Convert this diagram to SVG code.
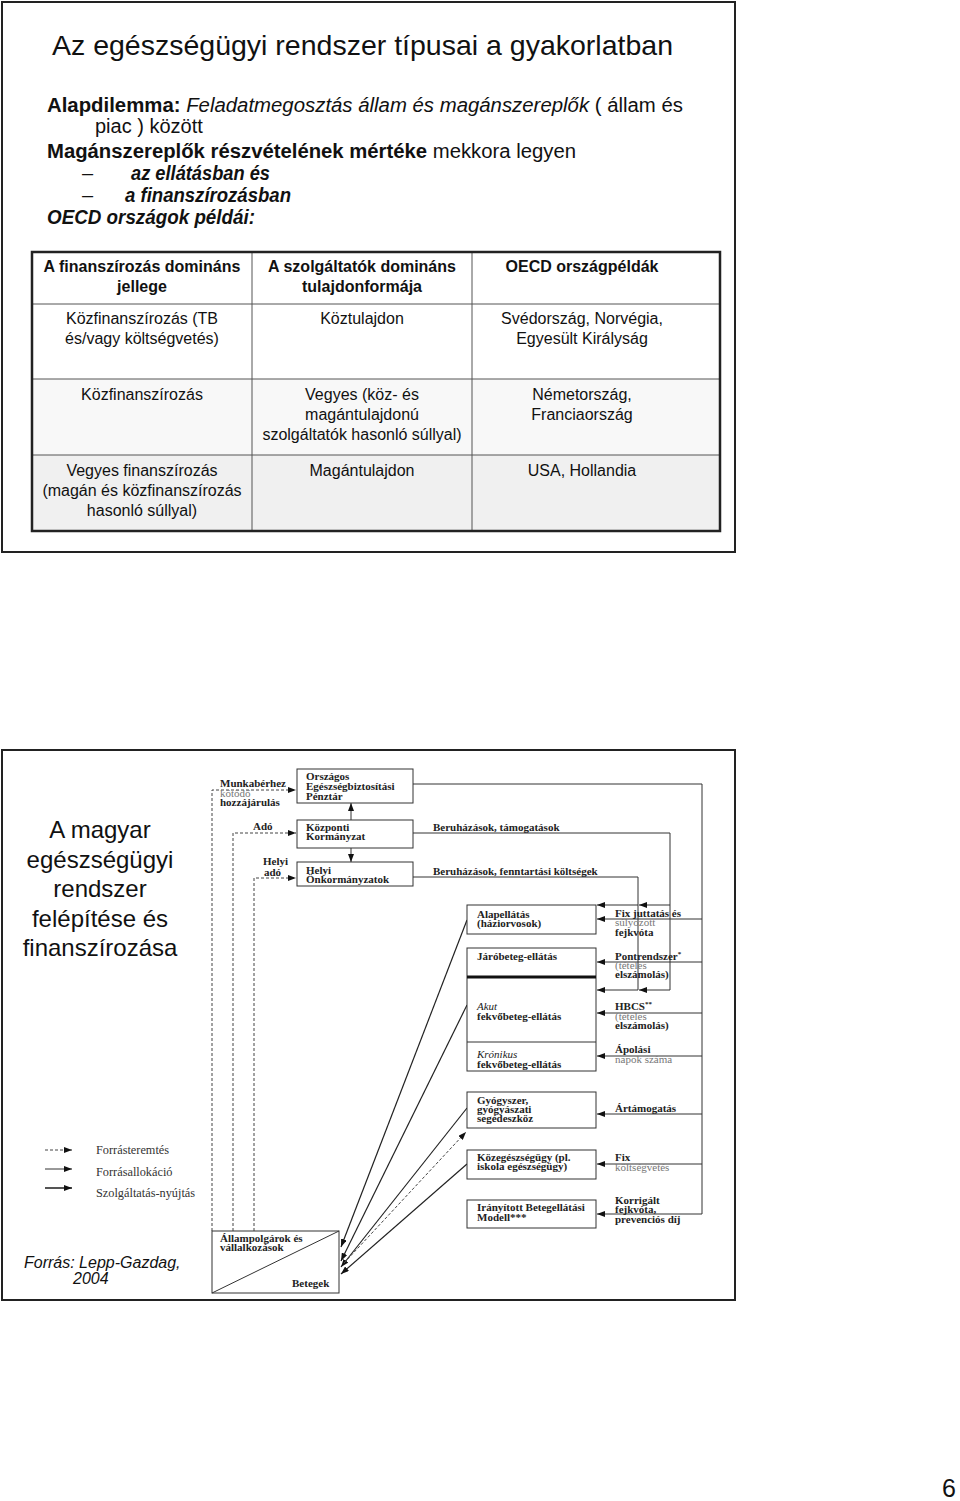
<svg xmlns="http://www.w3.org/2000/svg" width="960" height="1501" viewBox="0 0 960 1501">
<defs>
<style>
.s{font-family:"Liberation Sans",Arial,sans-serif;fill:#111}
.t{font-size:20px}
.th{font-size:16px;text-anchor:middle}
.b{font-weight:bold}
.i{font-style:italic}
.d{font-family:"Liberation Serif","Times New Roman",serif;font-size:11px;font-weight:bold;fill:#222}
.lt{font-weight:normal;fill:#777}
.lg{font-family:"Liberation Serif","Times New Roman",serif;font-size:12.3px;fill:#333}
.box{fill:#fff;stroke:#333;stroke-width:1}
.ln{fill:none;stroke:#333;stroke-width:1}
.dg{fill:none;stroke:#222;stroke-width:1.2}
.ds{fill:none;stroke:#444;stroke-width:1;stroke-dasharray:3,2}
.cell{stroke:#555;stroke-width:1}
</style>
<marker id="ah" viewBox="0 0 8 6" refX="8" refY="3" markerWidth="8" markerHeight="6" markerUnits="userSpaceOnUse" orient="auto">
<path d="M0,0 L8,3 L0,6 z" fill="#111"/>
</marker>
</defs>
<rect width="960" height="1501" fill="#fff"/>

<g id="slide1">
<rect x="2" y="2" width="733" height="550" fill="none" stroke="#222" stroke-width="2"/>
<text class="s" x="52" y="55" font-size="28.5" textLength="621" lengthAdjust="spacingAndGlyphs">Az egészségügyi rendszer típusai a gyakorlatban</text>
<text class="s t" x="47" y="112" textLength="636" lengthAdjust="spacingAndGlyphs"><tspan class="b">Alapdilemma:</tspan> <tspan class="i">Feladatmegosztás állam és magánszereplők</tspan> ( állam és</text>
<text class="s t" x="95" y="133">piac ) között</text>
<text class="s t" x="47" y="158" textLength="529" lengthAdjust="spacingAndGlyphs"><tspan class="b">Magánszereplők részvételének mértéke</tspan> mekkora legyen</text>
<text class="s t" x="82" y="180">–</text>
<text class="s t b i" x="131" y="180" textLength="139" lengthAdjust="spacingAndGlyphs">az ellátásban és</text>
<text class="s t" x="82" y="202">–</text>
<text class="s t b i" x="125" y="202" textLength="166" lengthAdjust="spacingAndGlyphs">a finanszírozásban</text>
<text class="s t b i" x="47" y="224" textLength="208" lengthAdjust="spacingAndGlyphs">OECD országok példái:</text>
</g>

<g id="table">
<rect x="32" y="379" width="688" height="76" fill="#f8f8f8"/>
<rect x="32" y="455" width="688" height="76" fill="#f0f0f0"/>
<line class="cell" x1="32" y1="304" x2="720" y2="304"/>
<line class="cell" x1="32" y1="379" x2="720" y2="379"/>
<line class="cell" x1="32" y1="455" x2="720" y2="455"/>
<line class="cell" x1="252" y1="252" x2="252" y2="531"/>
<line class="cell" x1="472" y1="252" x2="472" y2="531"/>
<rect x="32" y="252" width="688" height="279" fill="none" stroke="#222" stroke-width="2.5"/>
<text class="s th b" x="142" y="272">A finanszírozás domináns</text>
<text class="s th b" x="142" y="292">jellege</text>
<text class="s th b" x="362" y="272">A szolgáltatók domináns</text>
<text class="s th b" x="362" y="292">tulajdonformája</text>
<text class="s th b" x="582" y="272">OECD országpéldák</text>
<text class="s th" x="142" y="324">Közfinanszírozás (TB</text>
<text class="s th" x="142" y="344">és/vagy költségvetés)</text>
<text class="s th" x="362" y="324">Köztulajdon</text>
<text class="s th" x="582" y="324">Svédország, Norvégia,</text>
<text class="s th" x="582" y="344">Egyesült Királyság</text>
<text class="s th" x="142" y="400">Közfinanszírozás</text>
<text class="s th" x="362" y="400">Vegyes (köz- és</text>
<text class="s th" x="362" y="420">magántulajdonú</text>
<text class="s th" x="362" y="440">szolgáltatók hasonló súllyal)</text>
<text class="s th" x="582" y="400">Németország,</text>
<text class="s th" x="582" y="420">Franciaország</text>
<text class="s th" x="142" y="476">Vegyes finanszírozás</text>
<text class="s th" x="142" y="496">(magán és közfinanszírozás</text>
<text class="s th" x="142" y="516">hasonló súllyal)</text>
<text class="s th" x="362" y="476">Magántulajdon</text>
<text class="s th" x="582" y="476">USA, Hollandia</text>
</g>

<g id="slide2">
<rect x="2" y="750" width="733" height="550" fill="none" stroke="#222" stroke-width="2"/>
<text class="s" font-size="24" text-anchor="middle" x="100" y="838">A magyar</text>
<text class="s" font-size="24" text-anchor="middle" x="100" y="867.5">egészségügyi</text>
<text class="s" font-size="24" text-anchor="middle" x="100" y="897">rendszer</text>
<text class="s" font-size="24" text-anchor="middle" x="100" y="926.5">felépítése és</text>
<text class="s" font-size="24" text-anchor="middle" x="100" y="956">finanszírozása</text>
<text class="s i" font-size="16" x="24" y="1268">Forrás: Lepp-Gazdag,</text>
<text class="s i" font-size="16" x="73" y="1284">2004</text>
</g>

<g id="legend">
<line class="ds" x1="45" y1="1150" x2="72" y2="1150" marker-end="url(#ah)"/>
<line class="ln" x1="45" y1="1169" x2="72" y2="1169" marker-end="url(#ah)"/>
<line x1="45" y1="1188" x2="72" y2="1188" stroke="#555" stroke-width="2" marker-end="url(#ah)"/>
<text class="lg" x="96" y="1154">Forrásteremtés</text>
<text class="lg" x="96" y="1176">Forrásallokáció</text>
<text class="lg" x="96" y="1197">Szolgáltatás-nyújtás</text>
</g>

<g id="connectors">
<path class="ds" d="M212,1231 V790 H296" marker-end="url(#ah)"/>
<path class="ds" d="M233,1231 V833 H296" marker-end="url(#ah)"/>
<path class="ds" d="M254,1231 V878 H296" marker-end="url(#ah)"/>
<line class="ln" x1="351" y1="820" x2="351" y2="803" marker-end="url(#ah)"/>
<line class="ln" x1="351" y1="848" x2="351" y2="862" marker-end="url(#ah)"/>
<path class="ln" d="M413,784 H702 V1214"/>
<path class="ln" d="M413,833 H670 V990"/>
<path class="ln" d="M413,877 H638 V990"/>
<line class="ln" x1="670" y1="905" x2="639" y2="905" marker-end="url(#ah)"/>
<line class="ln" x1="638" y1="905" x2="597" y2="905" marker-end="url(#ah)"/>
<line class="ln" x1="670" y1="990" x2="639" y2="990" marker-end="url(#ah)"/>
<line class="ln" x1="638" y1="990" x2="597" y2="990" marker-end="url(#ah)"/>
<line class="ln" x1="702" y1="919" x2="597" y2="919" marker-end="url(#ah)"/>
<line class="ln" x1="702" y1="962" x2="597" y2="962" marker-end="url(#ah)"/>
<line class="ln" x1="702" y1="1013" x2="597" y2="1013" marker-end="url(#ah)"/>
<line class="ln" x1="702" y1="1056" x2="597" y2="1056" marker-end="url(#ah)"/>
<line class="ln" x1="702" y1="1114" x2="597" y2="1114" marker-end="url(#ah)"/>
<line class="ln" x1="702" y1="1164" x2="597" y2="1164" marker-end="url(#ah)"/>
<line class="ln" x1="702" y1="1214" x2="597" y2="1214" marker-end="url(#ah)"/>
<line class="dg" x1="467" y1="920" x2="341" y2="1247" marker-end="url(#ah)"/>
<line class="dg" x1="467" y1="1005" x2="341" y2="1261" marker-end="url(#ah)"/>
<line class="dg" x1="467" y1="1108" x2="341" y2="1267" marker-end="url(#ah)"/>
<line class="dg" x1="467" y1="1164" x2="341" y2="1274" marker-end="url(#ah)"/>
<line class="ds" x1="344" y1="1263" x2="466" y2="1132" marker-end="url(#ah)"/>
</g>

<g id="labels">
<text class="d" x="220" y="787">Munkabérhez</text>
<text class="d lt" x="220" y="797">kötődő</text>
<text class="d" x="220" y="806">hozzájárulás</text>
<text class="d" x="253" y="830">Adó</text>
<text class="d" x="263" y="865">Helyi</text>
<text class="d" x="264" y="876">adó</text>
<text class="d" x="433" y="830.5">Beruházások, támogatások</text>
<text class="d" x="433" y="874.5">Beruházások, fenntartási költségek</text>
<text class="d" x="615" y="916.5">Fix juttatás és</text>
<text class="d lt" x="615" y="925.5">súlyozott</text>
<text class="d" x="615" y="935.5">fejkvóta</text>
<text class="d" x="615" y="959.5">Pontrendszer<tspan dy="-4" font-size="7">*</tspan></text>
<text class="d lt" x="615" y="968.5">(tételes</text>
<text class="d" x="615" y="977.5">elszámolás)</text>
<text class="d" x="615" y="1009.5">HBCS<tspan dy="-4" font-size="7">**</tspan></text>
<text class="d lt" x="615" y="1019.5">(tételes</text>
<text class="d" x="615" y="1028.5">elszámolás)</text>
<text class="d" x="615" y="1052.5">Ápolási</text>
<text class="d lt" x="615" y="1062.5">napok száma</text>
<text class="d" x="615" y="1111.5">Ártámogatás</text>
<text class="d" x="615" y="1160.5">Fix</text>
<text class="d lt" x="615" y="1170.5">költségvetés</text>
<text class="d" x="615" y="1203.5">Korrigált</text>
<text class="d" x="615" y="1212.5">fejkvóta,</text>
<text class="d" x="615" y="1223">prevenciós díj</text>
</g>

<g id="oep">
<rect class="box" x="297" y="769" width="116" height="34"/>
<text class="d" x="306" y="780">Országos</text>
<text class="d" x="306" y="790">Egészségbiztosítási</text>
<text class="d" x="306" y="799.5">Pénztár</text>
</g>
<g id="kozponti">
<rect class="box" x="297" y="820" width="116" height="28"/>
<text class="d" x="306" y="830.5">Központi</text>
<text class="d" x="306" y="839.5">Kormányzat</text>
</g>
<g id="helyi">
<rect class="box" x="297" y="862" width="116" height="24"/>
<text class="d" x="306" y="873.5">Helyi</text>
<text class="d" x="306" y="882.5">Önkormányzatok</text>
</g>
<g id="alapellatas">
<rect class="box" x="467" y="905" width="129" height="29"/>
<text class="d" x="477" y="917.5">Alapellátás</text>
<text class="d" x="477" y="926.5">(háziorvosok)</text>
</g>
<g id="jarobeteg">
<rect class="box" x="467" y="948" width="129" height="123"/>
<line x1="467" y1="977" x2="596" y2="977" stroke="#111" stroke-width="3"/>
<line class="ln" x1="467" y1="1042" x2="596" y2="1042"/>
<text class="d" x="477" y="959.5">Járóbeteg-ellátás</text>
<text class="d i" x="477" y="1009.5" style="font-weight:normal">Akut</text>
<text class="d" x="477" y="1019.5">fekvőbeteg-ellátás</text>
<text class="d i" x="477" y="1057.5" style="font-weight:normal">Krónikus</text>
<text class="d" x="477" y="1067.5">fekvőbeteg-ellátás</text>
</g>
<g id="gyogyszer">
<rect class="box" x="467" y="1092" width="129" height="36"/>
<text class="d" x="477" y="1103.5">Gyógyszer,</text>
<text class="d" x="477" y="1112.5">gyógyászati</text>
<text class="d" x="477" y="1121.5">segédeszköz</text>
</g>
<g id="kozegeszsegugy">
<rect class="box" x="467" y="1150" width="129" height="29"/>
<text class="d" x="477" y="1160.5">Közegészségügy (pl.</text>
<text class="d" x="477" y="1169.5">iskola egészségügy)</text>
</g>
<g id="iranyitott">
<rect class="box" x="467" y="1200" width="129" height="28"/>
<text class="d" x="477" y="1211" font-size="10.5">Irányított Betegellátási</text>
<text class="d" x="477" y="1221" font-size="10.5">Modell***</text>
</g>
<g id="betegek">
<rect class="box" x="212" y="1231" width="127" height="62"/>
<line class="ln" x1="212" y1="1293" x2="339" y2="1231"/>
<text class="d" x="220" y="1242">Állampolgárok és</text>
<text class="d" x="220" y="1251">vállalkozások</text>
<text class="d" x="292" y="1287">Betegek</text>
</g>

<text class="s" font-size="25" x="942" y="1497">6</text>
</svg>
